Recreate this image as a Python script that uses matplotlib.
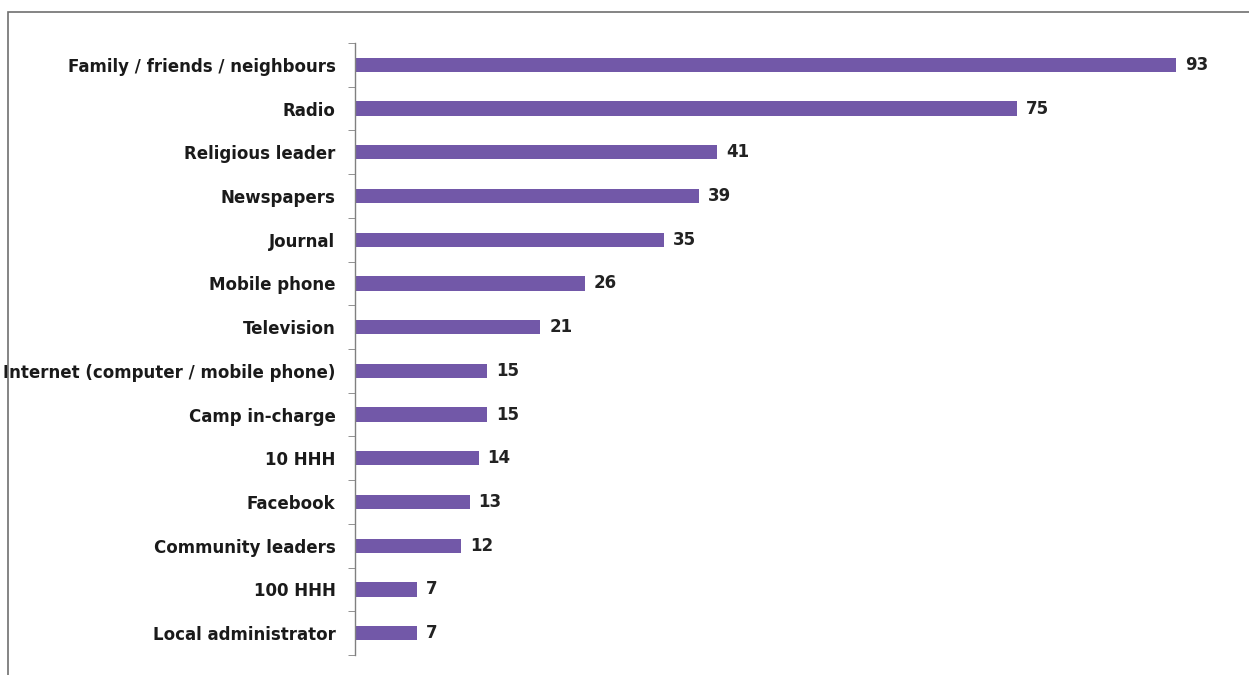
import matplotlib.pyplot as plt
import matplotlib.patches as mpatches
import numpy as np

# data (top to bottom)
categories = [
    "Family / friends / neighbours",
    "Radio",
    "Religious leader",
    "Newspapers",
    "Journal",
    "Mobile phone",
    "Television",
    "Internet (computer / mobile phone)",
    "Camp in-charge",
    "10 HHH",
    "Facebook",
    "Community leaders",
    "100 HHH",
    "Local administrator",
]
values = [93, 75, 41, 39, 35, 26, 21, 15, 15, 14, 13, 12, 7, 7]

BAR_COLOR = "#7258a8"
FONT = ["Liberation Sans Narrow", "DejaVu Sans"]

fig = plt.figure(figsize=(12.49, 6.75), dpi=100)
fig.patch.set_facecolor("white")

# outer frame like the screenshot border
frame = mpatches.Rectangle((8 / 1249, -0.05), 1.2, 1 - 12 / 675 + 0.05,
                           transform=fig.transFigure, fill=False,
                           edgecolor="#707070", linewidth=1.2)
fig.patches.append(frame)

ax = fig.add_axes([355 / 1249, 20 / 675, (1238 - 355) / 1249, (655 - 43) / 675])

y = np.arange(len(categories))
ax.barh(y, values, height=0.33, color=BAR_COLOR, edgecolor="none")

for yi, v in zip(y, values):
    ax.text(v + 1.0, yi, str(v), va="center", ha="left",
            fontsize=12, fontweight="bold", color="#222222", family=FONT)

ax.set_xlim(0, 100)
ax.set_ylim(len(categories) - 0.5, -0.5)

# category labels, ticks between categories
ax.set_yticks(y)
ax.set_yticklabels(categories, fontsize=12, fontweight="bold",
                   color="#1a1a1a", family=FONT)
ax.tick_params(axis="y", which="major", length=0, pad=14)
ax.set_yticks(np.arange(len(categories) + 1) - 0.5, minor=True)
ax.tick_params(axis="y", which="minor", length=5, color="#808080", direction="out")

ax.set_xticks([])
for side in ["top", "right", "bottom"]:
    ax.spines[side].set_visible(False)
ax.spines["left"].set_color("#808080")
ax.spines["left"].set_linewidth(1.0)

fig.savefig("out.png", dpi=100, facecolor="white")
